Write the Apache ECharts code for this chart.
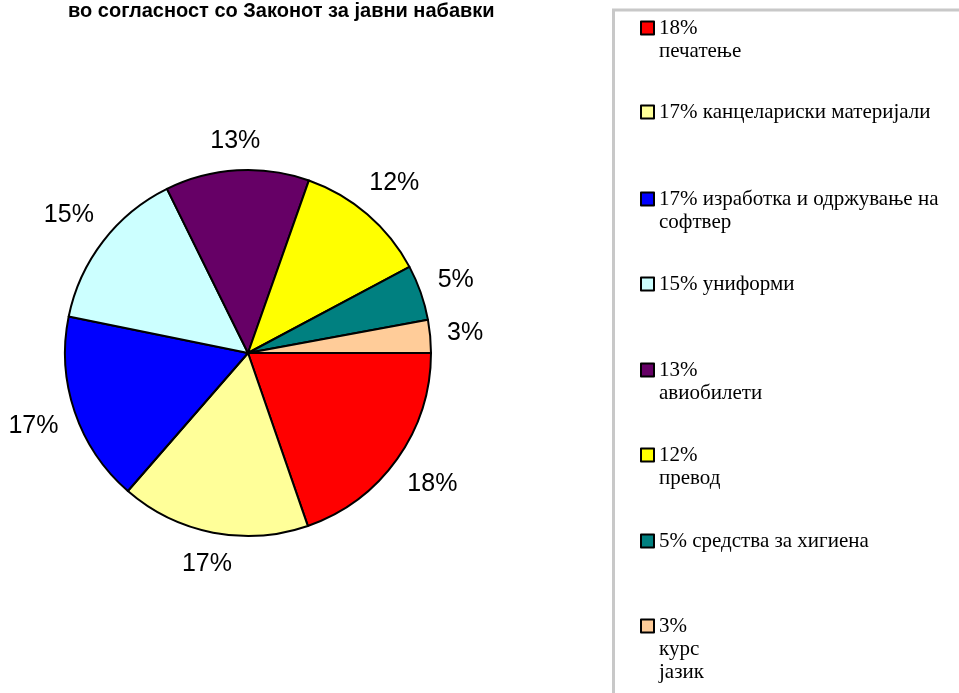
<!DOCTYPE html>
<html>
<head>
<meta charset="utf-8">
<script src="https://cdn.jsdelivr.net/npm/echarts@6/dist/echarts.min.js"></script>
<style>
  html, body {margin: 0; padding: 0; background: #fff;}
  #chart {width: 959px; height: 693px;}
</style>
</head>
<body>
<div id="chart"></div>
<script>
const title = 'во согласност со Законот за јавни набавки';
const categories = [
  '18%\nпечатење',
  '17% канцелариски материјали',
  '17% изработка и одржување на\nсофтвер',
  '15% униформи',
  '13%\nавиобилети',
  '12%\nпревод',
  '5% средства за хигиена',
  '3%\nкурс\nјазик'
];
const pieLabels = ['18%', '17%', '17%', '15%', '13%', '12%', '5%', '3%'];
const values = [19.7, 16.7, 16.8, 14.5, 12.7, 11.8, 4.9, 2.9];
const colors = ['#FF0000', '#FFFF99', '#0000FF', '#CCFFFF', '#660066', '#FFFF00', '#008080', '#FFCC99'];

// legend marker centres (Excel spreads the entries evenly down the box)
const legendY = [28, 112, 199, 284, 370, 455, 541, 626];
const lh = 23;
const labelSize = 25;

// push each percentage label out so its box, not its centre, sits beside the pie
const total = values.reduce((a, b) => a + b, 0);
let acc = 0;
const data = categories.map((name, i) => {
  const a = 2 * Math.PI * (acc + values[i] / 2) / total;
  acc += values[i];
  const c = Math.cos(a), s = Math.sin(a);
  const txt = pieLabels[i];
  const halfW = labelSize * (0.556 * (txt.length - 1) + 0.889) / 2;
  const ext = Math.abs(c) * halfW + Math.abs(s) * 12;
  return {name: name, value: values[i], label: {offset: [c * ext, s * ext]}};
});
const plain = data.map(d => ({name: d.name, value: d.value}));

const legends = categories.map((name, i) => {
  const n = name.split('\n').length;
  return {
    orient: 'vertical',
    left: 640,
    top: legendY[i] - (2 * n - 1) * lh / 2,
    padding: 0,
    data: [name],
    icon: 'rect',
    itemWidth: 13,
    itemHeight: 13,
    itemGap: 0,
    itemStyle: {borderColor: '#000', borderWidth: 2},
    selectedMode: false,
    formatter: (nm) => '\n'.repeat(nm.split('\n').length - 1) + nm,
    textStyle: {
      color: '#000',
      fontFamily: 'Liberation Serif',
      fontSize: 21,
      lineHeight: lh
    }
  };
});

const chart = echarts.init(document.getElementById('chart'));
chart.setOption({
  animation: false,
  color: colors,
  title: {
    text: title,
    left: 68,
    top: 1,
    padding: 0,
    textStyle: {
      color: '#000',
      fontFamily: 'Liberation Sans',
      fontWeight: 'bold',
      fontSize: 20
    }
  },
  legend: legends,
  graphic: [{
    type: 'rect',
    shape: {x: 613.5, y: 10, width: 400, height: 800},
    style: {fill: 'none', stroke: '#c8c8c8', lineWidth: 3},
    silent: true
  }],
  series: [
    {
      type: 'pie',
      center: [248, 353],
      radius: 183,
      startAngle: 0,
      clockwise: true,
      label: {show: false},
      labelLine: {show: false},
      itemStyle: {borderColor: '#000', borderWidth: 2},
      emphasis: {disabled: true},
      data: plain
    },
    {
      // transparent ring that only carries the percentage labels
      type: 'pie',
      center: [248, 353],
      radius: [190, 202],
      startAngle: 0,
      clockwise: true,
      silent: true,
      itemStyle: {color: 'rgba(0,0,0,0)', borderWidth: 0},
      label: {
        show: true,
        position: 'inside',
        color: '#000',
        fontFamily: 'Liberation Sans',
        fontSize: labelSize,
        formatter: (p) => pieLabels[p.dataIndex]
      },
      labelLine: {show: false},
      emphasis: {disabled: true},
      data: data
    }
  ]
});
</script>
</body>
</html>
